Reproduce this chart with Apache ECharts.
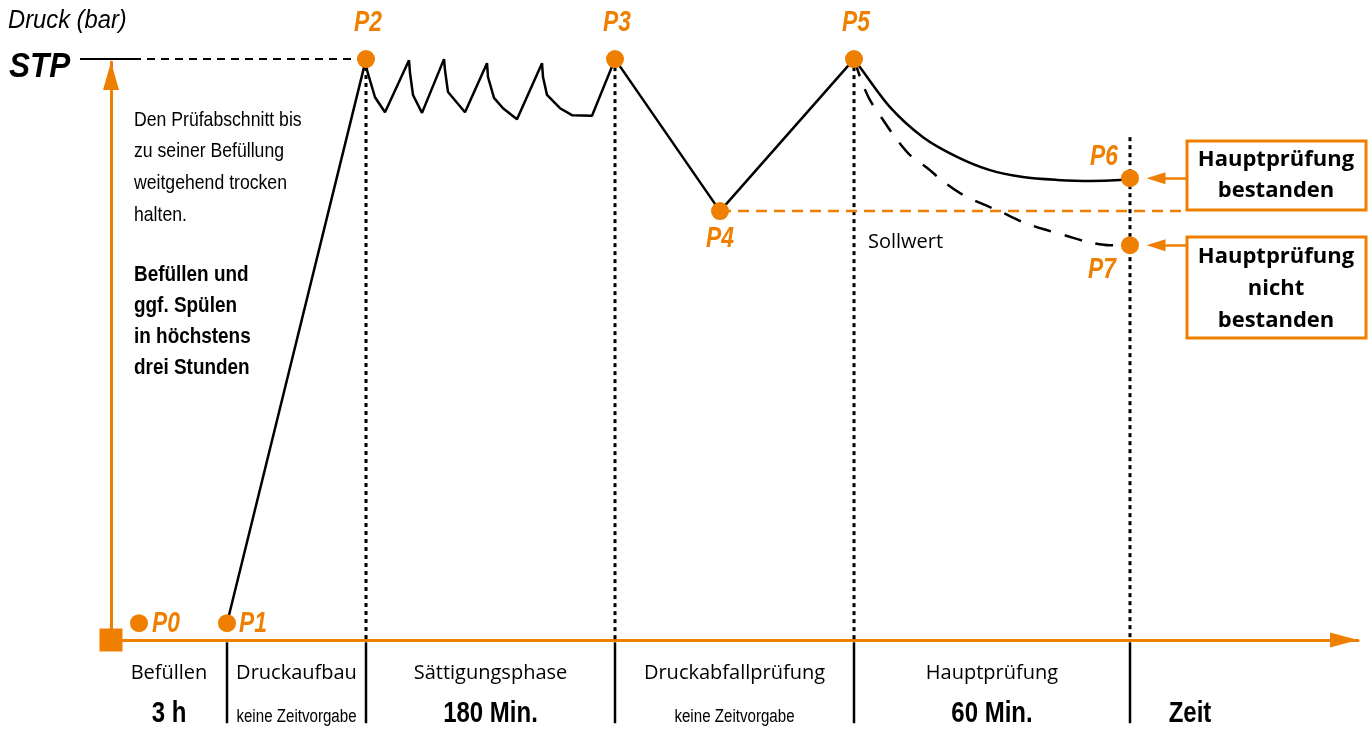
<!DOCTYPE html>
<html>
<head>
<meta charset="utf-8">
<title>Druckprüfung</title>
<script src="https://cdn.jsdelivr.net/npm/echarts@6/dist/echarts.min.js"></script>
<style>
  html, body { margin: 0; padding: 0; background: #fff; }
  #chart { width: 1370px; height: 729px; }
</style>
</head>
<body>
<div id="chart"></div>
<script>
var ORANGE = '#ee7f00'
var LIB = "'Liberation Sans', Arial, sans-serif"
var SANS = "'Open Sans', 'Noto Sans', sans-serif"

// Messpunkte P0..P7 (Zeit-Einheiten, Druck in % von STP)
var pointNames = ['P0', 'P1', 'P2', 'P3', 'P4', 'P5', 'P6', 'P7']
var pointX = [28, 116, 255, 504, 609, 743, 1019, 1019]
var pointY = [2.9, 2.9, 100.5, 100.5, 74.2, 100.5, 79.9, 68.3]

var stpLevel = 100.5
var sollwert = 74.2

// Sättigungsphase: Nachpumpen / Druckabfall
var satX = [256, 264, 274, 298, 299, 302, 311, 333, 334, 337, 354, 376, 377, 383, 392, 406, 431, 432, 436, 449, 461, 481]
var satY = [98.6, 93.9, 91.3, 100.3, 98.1, 94.3, 91.2, 100.5, 98.6, 94.8, 91.3, 99.8, 97.4, 93.8, 92.0, 90.1, 99.8, 97.4, 94.3, 92.0, 90.8, 90.7]

// Hauptprüfung bestanden (P5 -> P6)
var passX = [749, 779, 812, 846, 879, 912, 946, 979, 1009]
var passY = [99.1, 92.2, 87.0, 83.6, 81.3, 80.1, 79.6, 79.4, 79.6]

// Hauptprüfung nicht bestanden (P5 -> P7)
var failX = [751, 759, 772, 784, 799, 816, 834, 852, 872, 892, 912, 932, 956, 976, 999]
var failY = [96.5, 93.4, 90.0, 87.0, 83.9, 81.7, 79.1, 77.0, 75.4, 73.9, 72.3, 71.1, 69.9, 68.9, 68.3]

// Phasengrenzen
var dividerX = [116, 255, 504, 743, 1019]
var dividerTop = [0, 100.5, 100.5, 100.5, 87.0]
var phaseEdges = [0, 116, 255, 504, 743, 1019, 1139]
var phaseNames = ['Befüllen', 'Druckaufbau', 'Sättigungsphase', 'Druckabfallprüfung', 'Hauptprüfung', '']
var phaseTimes = ['3 h', 'keine Zeitvorgabe', '180 Min.', 'keine Zeitvorgabe', '60 Min.', 'Zeit']

function pairs (xs, ys) {
  return xs.map(function (x, i) { return [x, ys[i]] })
}
function pt (i) { return [pointX[i], pointY[i]] }

function seg (data, color, width, type, extra) {
  return Object.assign({
    type: 'line',
    data: data,
    symbol: 'none',
    clip: false,
    silent: true,
    animation: false,
    lineStyle: { color: color, width: width, type: type }
  }, extra || {})
}

// Textmarken an Datenkoordinaten, schmal gezogen (Condensed-Ersatz)
function textSeries (items) {
  return {
    type: 'custom',
    silent: true,
    animation: false,
    clip: false,
    z: 7,
    data: items.map(function (it) { return it.value }),
    renderItem: function (params, api) {
      var it = items[params.dataIndex]
      var p = api.coord([api.value(0), api.value(1)])
      return {
        type: 'text',
        x: p[0] + (it.dx || 0),
        y: p[1] + (it.dy || 0),
        scaleX: it.scaleX || 1,
        style: Object.assign({ text: it.text, align: 'center', verticalAlign: 'middle', fill: '#000' }, it.style)
      }
    }
  }
}

var mainPath = [pt(1), pt(2)].concat(pairs(satX, satY), [pt(3), pt(4), pt(5)])
var passPath = [pt(5)].concat(pairs(passX, passY), [pt(6)])
var failPath = [pt(5)].concat(pairs(failX, failY), [pt(7)])

var labelOffset = {
  P0: [27, 0], P1: [26, 0], P2: [2, -36], P3: [2, -36], P4: [0, 28],
  P5: [2, -36], P6: [-26, -21], P7: [-28, 25]
}

var series = []

// STP-Marke (kurzer Strich über der Achse) + Hilfslinie bis P2
series.push({
  type: 'scatter',
  clip: false,
  silent: true,
  animation: false,
  symbol: 'rect',
  symbolSize: [53, 2],
  itemStyle: { color: '#000', opacity: 1 },
  data: [[-4.5, stpLevel]]
})
series.push(seg([[22, stpLevel], [pointX[2], stpLevel]], '#000', 2, [8, 6]))

// Phasentrenner
dividerX.forEach(function (x, i) {
  if (dividerTop[i] > 0) {
    series.push(seg([[x, dividerTop[i]], [x, 0]], '#000', 3, [4, 4]))
  }
  series.push(seg([[x, -0.4], [x, -14.4]], '#000', 2.5, 'solid'))
})

// Druckverlauf
series.push(seg(mainPath, '#000', 2.5, 'solid', { z: 3 }))
series.push(seg(passPath, '#000', 2.5, 'solid', { z: 3, smooth: 0.3 }))
series.push(seg(failPath, '#000', 2.5, [18, 14], { z: 3, smooth: 0.3 }))

// Sollwert + Pfeile zu den Kästen
series.push(seg([[pointX[4], sollwert], [1076, sollwert]], ORANGE, 2.5, [11, 7], {
  z: 3,
  markLine: {
    silent: true,
    animation: false,
    symbol: ['none', 'triangle'],
    symbolSize: [12, 19],
    label: { show: false },
    lineStyle: { color: ORANGE, width: 2.5, type: 'solid' },
    data: [
      [{ coord: [1076, pointY[6]] }, { coord: [1045, pointY[6]] }],
      [{ coord: [1076, pointY[7]] }, { coord: [1045, pointY[7]] }]
    ]
  }
}))

// Punkte
series.push({
  type: 'scatter',
  clip: false,
  silent: true,
  animation: false,
  z: 6,
  symbolSize: 18,
  itemStyle: { color: ORANGE, opacity: 1 },
  data: pairs(pointX, pointY)
})
series.push(textSeries(pointNames.map(function (n, i) {
  return {
    value: pt(i),
    text: n,
    dx: labelOffset[n][0],
    dy: labelOffset[n][1],
    scaleX: 0.76,
    style: { fill: ORANGE, fontFamily: LIB, fontSize: 30, fontWeight: 'bold', fontStyle: 'italic' }
  }
})))

// Ursprung
series.push({
  type: 'scatter',
  clip: false,
  silent: true,
  animation: false,
  z: 6,
  symbol: 'rect',
  symbolSize: 23,
  itemStyle: { color: ORANGE, opacity: 1 },
  data: [[0, 0]]
})

// Phasenbeschriftung
var phaseLabels = []
for (var i = 0; i < phaseNames.length; i++) {
  var mid = (phaseEdges[i] + phaseEdges[i + 1]) / 2
  if (phaseNames[i]) {
    phaseLabels.push({
      value: [mid, -5.7],
      text: phaseNames[i],
      style: { fontFamily: SANS, fontSize: 20, fill: '#000' }
    })
  }
  var small = phaseTimes[i] === 'keine Zeitvorgabe'
  phaseLabels.push(small
    ? { value: [mid, -13.4], text: phaseTimes[i], scaleX: 0.84, style: { fontFamily: LIB, fontSize: 18 } }
    : { value: [mid, -12.8], text: phaseTimes[i], scaleX: 0.8, style: { fontFamily: LIB, fontSize: 30, fontWeight: 'bold' } })
}
series.push(textSeries(phaseLabels))

function txt (x, y, text, style, scaleX) {
  return {
    type: 'text',
    x: x,
    y: y,
    scaleX: scaleX || 1,
    silent: true,
    style: Object.assign({ text: text, fill: '#000' }, style)
  }
}

var myChart = echarts.init(document.getElementById('chart'))
var option = {
  animation: false,
  grid: { left: 111, right: 12, top: 62, bottom: 89 },
  xAxis: {
    type: 'value',
    min: 0,
    max: 1247,
    axisLine: {
      lineStyle: { color: ORANGE, width: 3 },
      symbol: ['none', 'triangle'],
      symbolSize: [15, 28],
      symbolOffset: [0, -14]
    },
    axisTick: { show: false },
    axisLabel: { show: false },
    splitLine: { show: false }
  },
  yAxis: {
    type: 'value',
    min: 0,
    max: 100,
    axisLine: {
      lineStyle: { color: ORANGE, width: 3 },
      symbol: ['none', 'triangle'],
      symbolSize: [16, 28],
      symbolOffset: [0, -14]
    },
    axisTick: { show: false },
    axisLabel: { show: false },
    splitLine: { show: false }
  },
  series: series,
  graphic: [
    txt(8, 21, 'Druck (bar)', { fontFamily: LIB, fontSize: 25, fontStyle: 'italic', verticalAlign: 'middle' }, 0.95),
    txt(9, 67, 'STP', { fontFamily: LIB, fontSize: 35, fontStyle: 'italic', fontWeight: 'bold', verticalAlign: 'middle' }, 0.9),
    txt(134, 104, 'Den Prüfabschnitt bis\nzu seiner Befüllung\nweitgehend trocken\nhalten.', { fontFamily: LIB, fontSize: 21, lineHeight: 31.7, verticalAlign: 'top' }, 0.84),
    txt(134, 259.5, 'Befüllen und\nggf. Spülen\nin höchstens\ndrei Stunden', { fontFamily: LIB, fontSize: 22, fontWeight: 'bold', lineHeight: 31, verticalAlign: 'top' }, 0.86),
    txt(868, 242, 'Sollwert', { fontFamily: SANS, fontSize: 20, verticalAlign: 'middle' }),
    {
      type: 'rect',
      silent: true,
      shape: { x: 1187, y: 141, width: 179, height: 69 },
      style: { fill: '#fff', stroke: ORANGE, lineWidth: 3 }
    },
    txt(1276, 144.5, 'Hauptprüfung\nbestanden', { fontFamily: SANS, fontSize: 22, fontWeight: 'bold', lineHeight: 31, align: 'center', verticalAlign: 'top' }),
    {
      type: 'rect',
      silent: true,
      shape: { x: 1187, y: 237, width: 179, height: 101 },
      style: { fill: '#fff', stroke: ORANGE, lineWidth: 3 }
    },
    txt(1276, 241, 'Hauptprüfung\nnicht\nbestanden', { fontFamily: SANS, fontSize: 22, fontWeight: 'bold', lineHeight: 32, align: 'center', verticalAlign: 'top' })
  ]
}
myChart.setOption(option)
</script>
</body>
</html>
